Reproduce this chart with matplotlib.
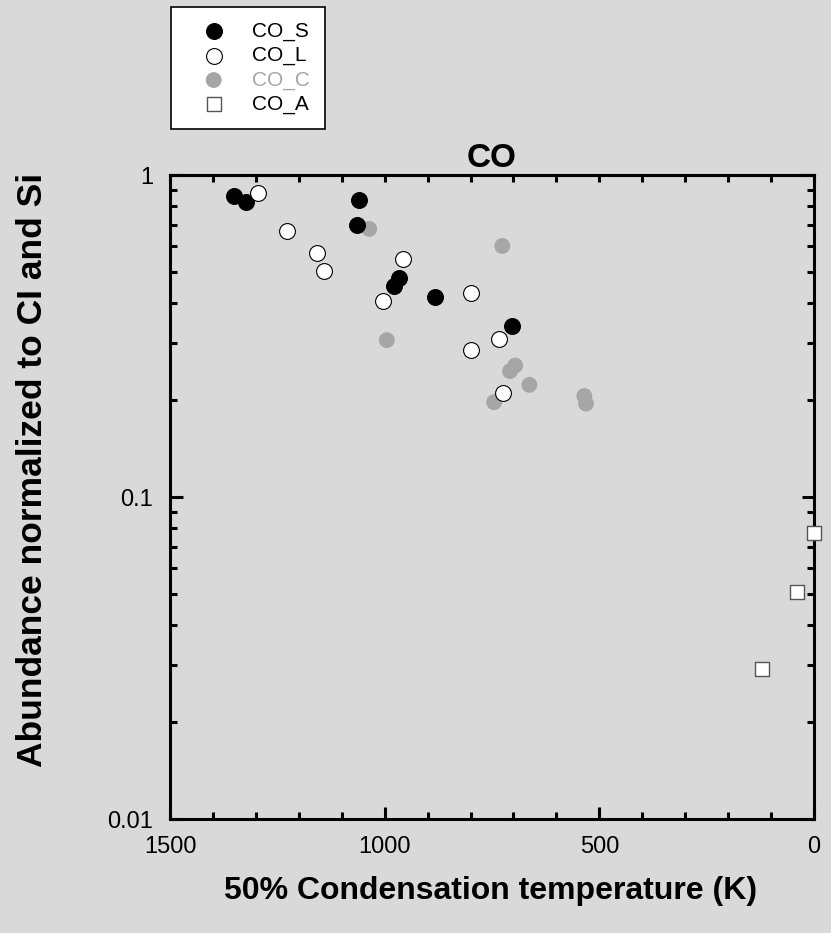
#!/usr/bin/env python3
"""
CO abundance vs 50% condensation temperature
"""
import matplotlib
matplotlib.use('Agg')
import matplotlib.pyplot as plt
from matplotlib.ticker import MultipleLocator, FixedLocator, FuncFormatter

plt.rcParams['font.family'] = ['Liberation Sans', 'DejaVu Sans']

# 50% condensation temperature (K) and abundance normalized to CI and Si
s_temp = [1351, 1322, 1059, 1064, 967, 978, 882, 703]
s_abund = [0.861, 0.826, 0.838, 0.698, 0.478, 0.451, 0.419, 0.340]

l_temp = [1294, 1227, 1157, 1141, 957, 1005, 799, 799, 733, 725]
l_abund = [0.881, 0.671, 0.573, 0.502, 0.550, 0.405, 0.429, 0.287, 0.309, 0.211]

c_temp = [1036, 726, 995, 696, 708, 663, 745, 535, 531]
c_abund = [0.680, 0.602, 0.307, 0.256, 0.246, 0.223, 0.197, 0.206, 0.195]

a_temp = [0, 40, 121]
a_abund = [0.0773, 0.0507, 0.0292]

BG = '#d9d9d9'
GRAY = '#a6a6a6'


def main():
  fig = plt.figure(figsize=(8.31, 9.33), dpi=100, facecolor=BG)
  ax = fig.add_axes([170 / 831, 1 - 819 / 933, 644 / 831, 644 / 933])
  ax.set_facecolor(BG)

  h_s = ax.scatter(s_temp, s_abund, s=130, c='black', edgecolors='black',
                   linewidths=0.8, label='CO_S', zorder=3)
  h_l = ax.scatter(l_temp, l_abund, s=130, c='white', edgecolors='black',
                   linewidths=0.8, label='CO_L', zorder=3)
  h_c = ax.scatter(c_temp, c_abund, s=130, c=GRAY, edgecolors='none',
                   label='CO_C', zorder=2)
  h_a = ax.scatter(a_temp, a_abund, s=110, marker='s', c='white',
                   edgecolors='#555555', linewidths=1.0, label='CO_A',
                   zorder=3, clip_on=False)

  ax.set_yscale('log')
  ax.set_ylim(0.01, 1)
  ax.set_xlim(1500, 0)

  ax.xaxis.set_major_locator(MultipleLocator(500))
  ax.xaxis.set_minor_locator(MultipleLocator(100))
  ax.yaxis.set_major_locator(FixedLocator([0.01, 0.1, 1]))
  ax.yaxis.set_major_formatter(FuncFormatter(lambda v, p: '%g' % v))

  for sp in ax.spines.values():
    sp.set_linewidth(2.2)
  ax.tick_params(which='both', direction='in', width=2.2,
                 left=True, right=True, top=False, bottom=True)
  ax.tick_params(which='major', length=9, labelsize=17, pad=12)
  ax.tick_params(which='minor', length=5)

  top = ax.secondary_xaxis('top')
  top.xaxis.set_major_locator(MultipleLocator(100))
  top.tick_params(direction='in', length=5, width=2.2, labeltop=False)
  top.spines['top'].set_linewidth(2.2)

  ax.set_title('CO', fontsize=24, fontweight='bold', pad=6)
  ax.set_xlabel('50% Condensation temperature (K)', fontsize=23,
                fontweight='bold', va='center')
  ax.xaxis.set_label_coords(0.498, -0.112)
  ax.set_ylabel('Abundance normalized to CI and Si', fontsize=25.5,
                fontweight='bold', va='center')
  ax.yaxis.set_label_coords(-0.213, 0.542)

  leg = fig.legend(handles=[h_s, h_l, h_c, h_a],
                   loc='upper left', bbox_to_anchor=(171 / 831, 1 - 7 / 933),
                   borderaxespad=0, fancybox=False, framealpha=1,
                   edgecolor='black', fontsize=15, borderpad=0.7,
                   handlelength=2.7, handletextpad=0.5, labelspacing=0.25)
  leg.get_frame().set_linewidth(1.2)
  leg.get_texts()[2].set_color(GRAY)

  plt.savefig('out.png', dpi=100, facecolor=BG)


if __name__ == '__main__':
  main()
